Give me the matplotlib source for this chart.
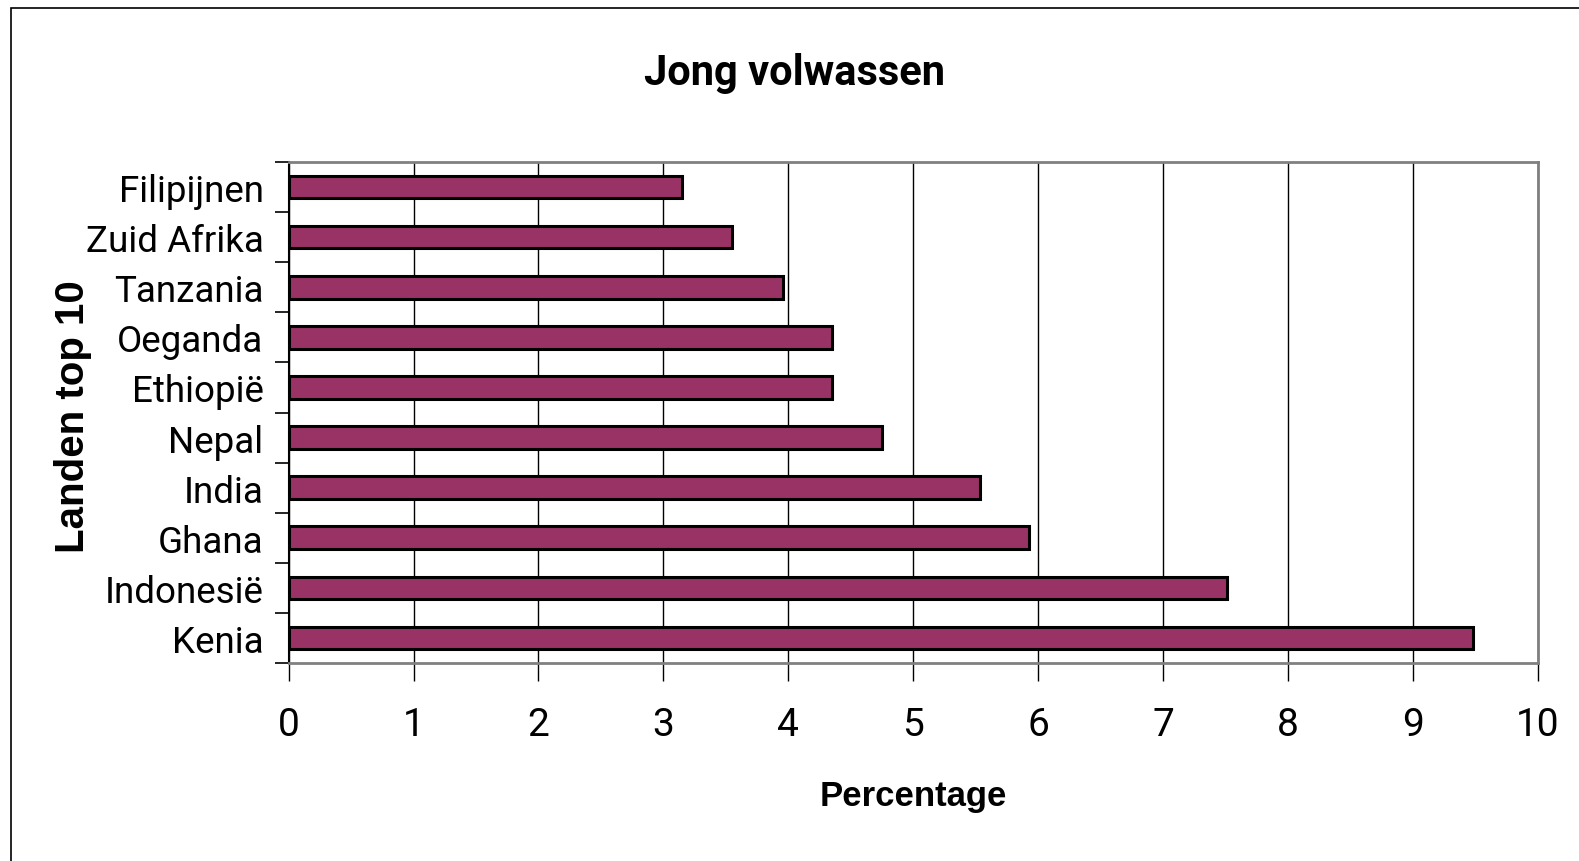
import numpy as np
import matplotlib
matplotlib.use('Agg')
import matplotlib.pyplot as plt
from matplotlib.patches import Rectangle

## data (bottom to top)
landen = ['Kenia', 'Indonesië', 'Ghana', 'India', 'Nepal',
          'Ethiopië', 'Oeganda', 'Tanzania', 'Zuid Afrika', 'Filipijnen']
percentage = [9.48, 7.51, 5.93, 5.53, 4.75, 4.35, 4.35, 3.96, 3.55, 3.15]
x_ticks = [0, 1, 2, 3, 4, 5, 6, 7, 8, 9, 10]

narrow = ['Roboto', 'DejaVu Sans']
wide = ['Liberation Sans', 'DejaVu Sans']

W, H = 1579, 862
fig = plt.figure(figsize=(W / 100, H / 100), dpi=100)

# outer chart border
fig.patches.append(Rectangle((11 / W, -0.05), 1.2, 1 - 9 / H + 0.05,
                             transform=fig.transFigure, fill=False,
                             edgecolor='black', linewidth=1.2))

ax = fig.add_axes([288.6 / W, 1 - 664 / H, (1538 - 288.6) / W, (664 - 163) / H])

y = np.arange(len(landen))
ax.barh(y, percentage, height=0.45, color='#993366',
        edgecolor='black', linewidth=2.2, zorder=3)

ax.set_xlim(0, 10)
ax.set_ylim(-0.5, len(landen) - 0.5)

# x axis
ax.set_xticks(x_ticks)
ax.set_xticklabels([str(t) for t in x_ticks], fontsize=28, family=narrow)
ax.tick_params(axis='x', direction='out', length=13, width=1, pad=18,
               colors='black')
ax.grid(axis='x', color='black', linewidth=1.0, zorder=1)

# y axis: tick marks at boundaries, labels centered
ax.set_yticks(np.arange(-0.5, len(landen), 1.0))
ax.set_yticklabels([])
ax.set_yticks(y, minor=True)
ax.set_yticklabels(landen, minor=True, fontsize=26.5, family=narrow)
ax.tick_params(axis='y', which='major', direction='out', length=10, width=1.2)
ax.tick_params(axis='y', which='minor', length=0, pad=18)

for s in ['top', 'right', 'bottom']:
    ax.spines[s].set_color('#808080')
    ax.spines[s].set_linewidth(2.0)
ax.spines['left'].set_color('black')
ax.spines['left'].set_linewidth(1.5)

fig.text(795 / W, 1 - 73 / H, 'Jong volwassen', ha='center', va='center',
         fontsize=30, fontweight='bold', family=narrow)
fig.text(913 / W, 1 - 797 / H, 'Percentage', ha='center', va='center',
         fontsize=25, fontweight='bold', family=wide)
fig.text(72.5 / W, 1 - 417 / H, 'Landen top 10', ha='center', va='center',
         rotation=90, fontsize=29, fontweight='bold', family=wide)

fig.savefig('out.png', dpi=100)
